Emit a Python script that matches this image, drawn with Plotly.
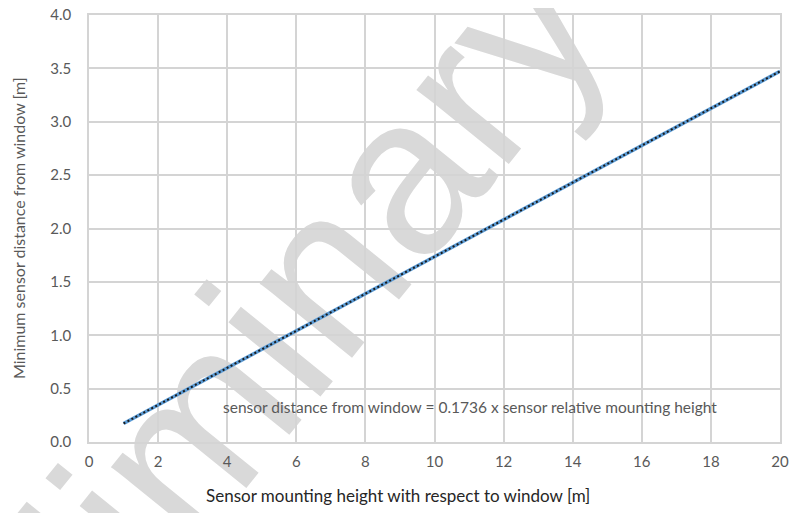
import plotly.graph_objects as go

# Data
heights = [1, 2, 3, 4, 5, 6, 7, 8, 9, 10, 11, 12, 13, 14, 15, 16, 17, 18, 19, 20]
distances = [0.1736, 0.3472, 0.5208, 0.6944, 0.8680, 1.0416, 1.2152, 1.3888, 1.5624, 1.7360,
             1.9096, 2.0832, 2.2568, 2.4304, 2.6040, 2.7776, 2.9512, 3.1248, 3.2984, 3.4720]
x_ticks = [0, 2, 4, 6, 8, 10, 12, 14, 16, 18, 20]
y_ticks = [0.0, 0.5, 1.0, 1.5, 2.0, 2.5, 3.0, 3.5, 4.0]
y_tick_labels = ["0.0", "0.5", "1.0", "1.5", "2.0", "2.5", "3.0", "3.5", "4.0"]
equation_text = "sensor distance from window = 0.1736 x sensor relative mounting height"
x_title = "Sensor mounting height with respect to window [m]"
y_title = "Minimum sensor distance from window [m]"
watermark_text = "Preliminary"

FONT = "Lato"
GRID = "#d4d4d4"
TXT = "#595959"

fig = go.Figure()
fig.add_trace(go.Scatter(x=heights, y=distances, mode="lines",
                         line=dict(color="#5B9BD5", width=3.5), showlegend=False, hoverinfo="skip"))
fig.add_trace(go.Scatter(x=heights, y=distances, mode="lines",
                         line=dict(color="#1a1a1a", width=2, dash="2px,2.5px"), showlegend=False))

fig.add_annotation(x=11.03, y=0.328, xref="x", yref="y", text=equation_text, showarrow=False,
                   xanchor="center", yanchor="middle",
                   font=dict(family=FONT, size=15.5, color=TXT))

# Axis titles
fig.add_annotation(x=0.447, y=-0.126, xref="paper", yref="paper", text=x_title, showarrow=False,
                   xanchor="center", yanchor="middle",
                   font=dict(family=FONT, size=17, color="#262626"))
fig.add_annotation(x=-0.1027, y=0.501, xref="paper", yref="paper", text=y_title, showarrow=False,
                   xanchor="center", yanchor="middle", textangle=-90,
                   font=dict(family=FONT, size=16, color=TXT))

# Watermark (below gridlines)
fig.add_shape(type="rect", xref="paper", yref="paper", x0=0.141, x1=0.143, y0=0.088, y1=0.090,
              line=dict(width=0), fillcolor="rgba(0,0,0,0)", layer="below",
              label=dict(text=watermark_text, textangle=-51, textposition="middle center",
                         font=dict(family="Liberation Sans", size=224, color="#d9d9d9")))

fig.update_layout(
    width=790, height=505,
    margin=dict(l=81, r=18, t=7, b=71),
    paper_bgcolor="white", plot_bgcolor="rgba(0,0,0,0)",
    font=dict(family=FONT, size=15, color=TXT),
    xaxis=dict(range=[0, 20], tickvals=x_ticks, showgrid=True, gridcolor=GRID, gridwidth=1.5,
               zeroline=False, showline=True, linecolor=GRID, linewidth=1.5, mirror=True,
               ticks="", ticklabelstandoff=5, ticklabeloverflow="allow",
               tickfont=dict(size=15, color=TXT), automargin=False),
    yaxis=dict(range=[0, 4], tickvals=y_ticks, ticktext=y_tick_labels, showgrid=True,
               gridcolor=GRID, gridwidth=1.5, zeroline=False, showline=True, linecolor=GRID,
               linewidth=1.5, mirror=True, ticks="", ticklabelstandoff=13,
               ticklabeloverflow="allow",
               tickfont=dict(size=15, color=TXT), automargin=False),
)

fig.write_html("out.html")
